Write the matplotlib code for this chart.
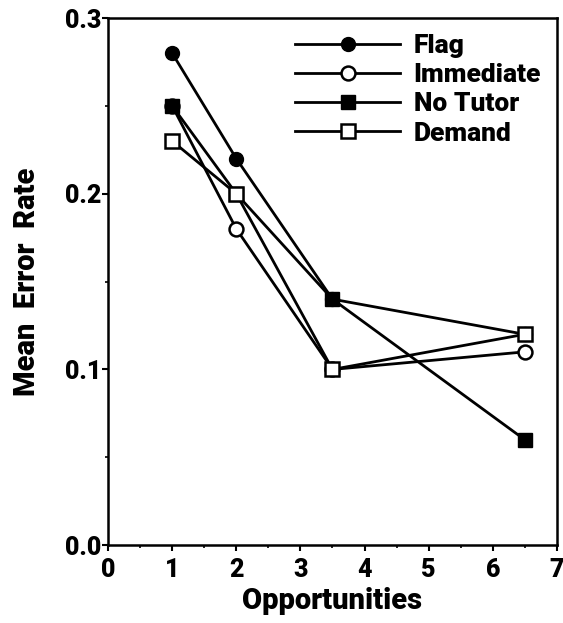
import matplotlib
matplotlib.use('Agg')
import matplotlib.pyplot as plt
from matplotlib.ticker import MultipleLocator

# data
opps = [1, 2, 3.5, 6.5]
flag = [0.28, 0.22, 0.14, 0.12]
immediate = [0.25, 0.18, 0.10, 0.11]
no_tutor = [0.25, 0.20, 0.14, 0.06]
demand = [0.23, 0.20, 0.10, 0.12]

plt.rcParams['font.family'] = ['Roboto', 'Liberation Sans', 'DejaVu Sans']
plt.rcParams['font.weight'] = 'heavy'

fig = plt.figure(figsize=(5.63, 6.23), dpi=100)
ax = fig.add_axes([0.192, 0.125, 0.797, 0.846])

lw = 2
ms = 10
ax.plot(opps, flag, '-o', color='black', lw=lw, ms=ms, mfc='black', mec='black', label='Flag')
ax.plot(opps, immediate, '-o', color='black', lw=lw, ms=ms, mfc='white', mec='black', mew=1.8, label='Immediate')
ax.plot(opps, no_tutor, '-s', color='black', lw=lw, ms=ms, mfc='black', mec='black', label='No Tutor')
ax.plot(opps, demand, '-s', color='black', lw=lw, ms=ms, mfc='white', mec='black', mew=1.8, label='Demand')

ax.set_xlim(0, 7)
ax.set_ylim(0, 0.3)
ax.xaxis.set_major_locator(MultipleLocator(1))
ax.xaxis.set_minor_locator(MultipleLocator(0.5))
ax.yaxis.set_major_locator(MultipleLocator(0.1))
ax.yaxis.set_minor_locator(MultipleLocator(0.05))
ax.yaxis.set_major_formatter(plt.FormatStrFormatter('%.1f'))
ax.tick_params(axis='both', direction='out', length=4, width=1.5, labelsize=18)
ax.tick_params(axis='both', which='minor', direction='out', length=2.5, width=1.2)
ax.tick_params(axis='x', pad=5)
ax.tick_params(axis='y', pad=1)
for s in ax.spines.values():
    s.set_linewidth(1.8)

ax.set_xlabel('Opportunities', fontsize=21, fontweight='heavy', labelpad=4)
ax.set_ylabel('Mean  Error  Rate', fontsize=21, fontweight='heavy', labelpad=17)

ax.legend(loc='upper right', frameon=False, fontsize=19, handlelength=4.0,
          handletextpad=0.5, labelspacing=0.2, borderaxespad=0.2,
          bbox_to_anchor=(1.0, 1.0))

fig.savefig('out.png', dpi=100)
